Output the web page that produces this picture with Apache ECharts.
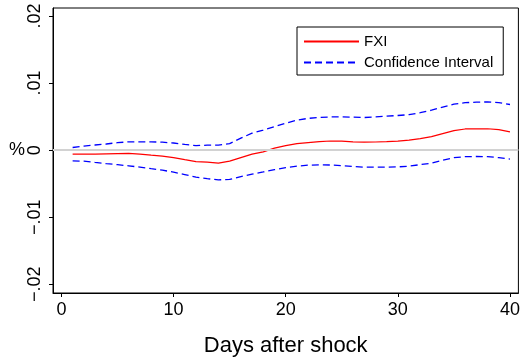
<!DOCTYPE html>
<html>
<head>
<meta charset="utf-8">
<script src="https://cdn.jsdelivr.net/npm/echarts@6/dist/echarts.min.js"></script>
<style>html,body{margin:0;padding:0;background:#fff}#c{width:523px;height:363px}</style>
</head>
<body>
<div id="c"></div>
<script>
const days = [1,2,3,4,5,6,7,8,9,10,11,12,13,14,15,16,17,18,19,20,21,22,23,24,25,26,27,28,29,30,31,32,33,34,35,36,37,38,39,40];
const fxi = [-0.0006,-0.0006,-0.0006,-0.00055,-0.00052,-0.00049,-0.0006,-0.00075,-0.00089,-0.00112,
  -0.00142,-0.00171,-0.00179,-0.00194,-0.00164,-0.00112,-0.0006,-0.00025,0.0003,0.00067,
  0.00097,0.00112,0.00127,0.00137,0.00134,0.00124,0.00119,0.00122,0.00127,0.00134,
  0.00149,0.00171,0.00201,0.00246,0.00291,0.00316,0.00317,0.00319,0.00306,0.00273];
const ciUpper = [0.0004,0.0006,0.00077,0.00092,0.00112,0.00124,0.00124,0.00124,0.00119,0.00107,
  0.00085,0.00067,0.00075,0.00075,0.00097,0.00179,0.00253,0.00298,0.0035,0.00402,
  0.00447,0.00474,0.00487,0.00495,0.00496,0.00492,0.00487,0.00495,0.00507,0.00517,
  0.00529,0.00559,0.00596,0.00641,0.00686,0.00708,0.00715,0.0072,0.00708,0.00681];
const ciLower = [-0.0016,-0.00164,-0.00183,-0.00201,-0.00216,-0.00234,-0.00253,-0.00276,-0.00298,-0.00328,
  -0.00365,-0.00402,-0.00425,-0.00443,-0.00437,-0.00395,-0.00358,-0.00325,-0.00291,-0.00261,
  -0.00238,-0.00224,-0.00219,-0.00221,-0.00231,-0.00243,-0.00253,-0.00253,-0.00253,-0.00249,
  -0.00238,-0.00216,-0.00194,-0.00149,-0.00112,-0.00097,-0.00094,-0.00097,-0.00112,-0.00134];
const xTicks = [0,10,20,30,40];
const yTicks = [-0.02,-0.01,0,0.01,0.02];
const yTickLabels = ['\u2212.02','\u2212.01','0','.01','.02'];

const FONT = 'Liberation Sans, Arial, sans-serif';
const chart = echarts.init(document.getElementById('c'), null, {renderer:'canvas'});
const pair = arr => days.map((d,i)=>[d,arr[i]]);
chart.setOption({
  animation:false,
  backgroundColor:'#fff',
  grid:{left:53,top:8,right:1.5,bottom:70,show:true,borderColor:'#000',borderWidth:1,containLabel:false},
  xAxis:{type:'value',min:-0.75,max:40.75,
    name:'Days after shock',nameLocation:'middle',nameGap:42,
    nameTextStyle:{fontFamily:FONT,fontSize:22,color:'#000'},
    axisLine:{show:true,onZero:false,lineStyle:{color:'#000',width:1}},
    axisTick:{show:true,length:4,customValues:xTicks,lineStyle:{color:'#000'}},
    axisLabel:{customValues:xTicks,margin:8,fontFamily:FONT,fontSize:18,color:'#000'},
    splitLine:{show:false}},
  yAxis:{type:'value',min:-0.0213,max:0.0212,
    axisLine:{show:true,onZero:false,lineStyle:{color:'#000',width:1}},
    axisTick:{show:true,length:4,customValues:yTicks,lineStyle:{color:'#000'}},
    axisLabel:{customValues:yTicks,rotate:90,margin:9,fontFamily:FONT,fontSize:18,color:'#000',
      formatter:v=>{const i=yTicks.findIndex(t=>Math.abs(t-v)<1e-9);return i>=0?yTickLabels[i]:'';}},
    splitLine:{show:false}},
  legend:{orient:'vertical',left:297,top:27,
    padding:[7,10,5,6],itemGap:6,itemWidth:55,itemHeight:14,
    borderColor:'#000',borderWidth:1,backgroundColor:'#fff',
    itemStyle:{opacity:0},
    textStyle:{fontFamily:FONT,fontSize:15,color:'#000'},
    data:['FXI','Confidence Interval']},
  graphic:[{type:'text',left:9,top:141,style:{text:'%',font:'18px '+FONT,fill:'#000'}}],
  series:[
    {name:'FXI',type:'line',data:pair(fxi),symbol:'none',z:3,
      lineStyle:{color:'#ff0000',width:1.2},itemStyle:{color:'#ff0000'},
      markLine:{silent:true,symbol:'none',label:{show:false},
        lineStyle:{color:'#d2d2d2',width:2,type:'solid'},data:[{yAxis:0}]}},
    {name:'Confidence Interval',type:'line',data:pair(ciUpper),symbol:'none',z:3,
      lineStyle:{color:'#0000ff',width:1.3,type:[7,4]},itemStyle:{color:'#0000ff'}},
    {name:'Confidence Interval',type:'line',data:pair(ciLower),symbol:'none',z:3,
      lineStyle:{color:'#0000ff',width:1.3,type:[7,4]},itemStyle:{color:'#0000ff'}}
  ]
});
</script>
</body>
</html>
